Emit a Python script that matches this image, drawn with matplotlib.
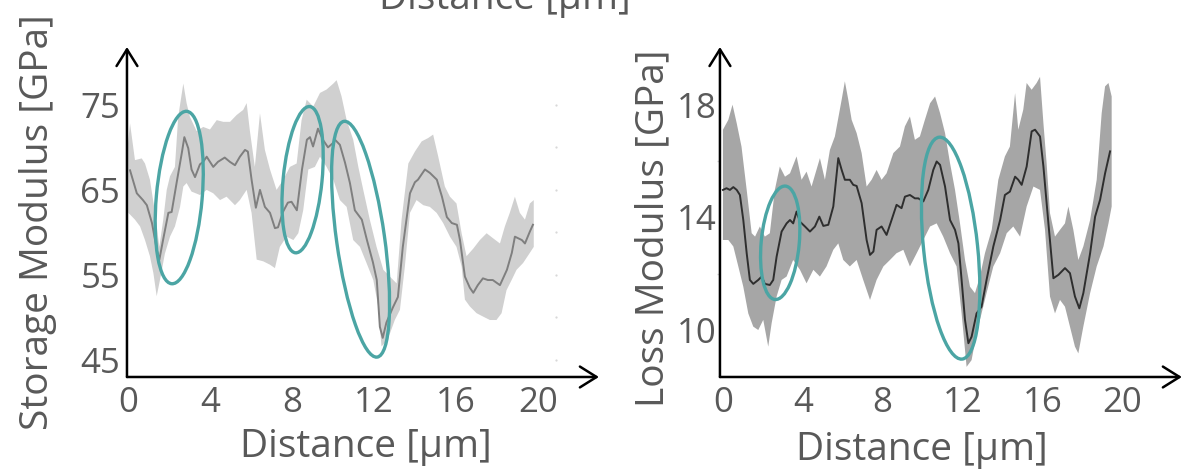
import numpy as np
import matplotlib
matplotlib.use("Agg")
import matplotlib.pyplot as plt
from matplotlib.patches import Ellipse
from matplotlib.transforms import Affine2D, ScaledTranslation

plt.rcParams['font.family'] = ['Open Sans', 'DejaVu Sans']

#%% data
## storage modulus (left): mean line and shaded band edges
storage_x = [0.10, 0.43, 0.73, 0.92, 1.17, 1.41, 1.53, 1.71, 1.97, 2.13,
             2.37, 2.63, 2.75, 2.94, 3.10, 3.27, 3.51, 3.67, 3.84, 4.16,
             4.39, 4.72, 4.97, 5.22, 5.46, 5.71, 5.85, 6.03, 6.24, 6.44,
             6.68, 6.93, 7.17, 7.32, 7.56, 7.80, 7.98, 8.24, 8.49, 8.73,
             8.88, 9.03, 9.27, 9.51, 9.76, 10.00, 10.10, 10.34, 10.59, 10.83,
             11.07, 11.41, 11.66, 11.95, 12.14, 12.29, 12.43, 12.61, 12.93, 13.17,
             13.41, 13.76, 14.00, 14.15, 14.49, 14.73, 15.07, 15.32, 15.56, 15.80,
             16.05, 16.20, 16.44, 16.68, 16.85, 17.07, 17.32, 17.56, 17.80, 18.15,
             18.49, 18.73, 18.88, 19.22, 19.37, 19.61, 19.76]
storage_mean = [67.3, 64.6, 63.8, 63.2, 61.1, 57.9, 56.8, 59.1, 62.3, 62.4,
                65.8, 69.4, 71.2, 69.9, 67.4, 66.5, 68.0, 68.3, 68.9, 67.7,
                68.3, 68.8, 68.3, 67.9, 68.9, 69.7, 69.5, 66.2, 62.9, 65.0,
                63.0, 62.3, 60.5, 60.6, 62.4, 63.5, 63.6, 62.6, 67.4, 70.9,
                71.2, 70.1, 72.2, 70.9, 70.0, 70.5, 70.9, 70.3, 68.2, 65.8,
                62.6, 61.5, 59.1, 56.5, 54.4, 48.9, 47.6, 49.4, 51.2, 52.4,
                58.3, 64.6, 65.9, 66.2, 67.4, 67.0, 66.2, 64.2, 61.8, 61.1,
                60.9, 59.1, 54.8, 53.5, 52.9, 53.8, 54.6, 54.4, 54.4, 53.8,
                55.6, 57.6, 59.5, 59.1, 58.7, 60.1, 60.9]

storage_up_x = [0.00, 0.10, 0.34, 0.67, 0.83, 1.07, 1.32, 1.53, 1.72, 1.89,
                2.05, 2.29, 2.45, 2.70, 2.86, 3.02, 3.35, 3.67, 4.00, 4.33,
                4.65, 4.98, 5.30, 5.62, 5.79, 5.95, 6.19, 6.44, 6.68, 6.93,
                7.25, 7.58, 7.90, 8.23, 8.47, 8.72, 9.04, 9.37, 9.69, 10.02,
                10.18, 10.42, 10.67, 10.99, 11.24, 11.48, 11.80, 12.13, 12.46, 12.78,
                13.11, 13.35, 13.68, 14.00, 14.33, 14.65, 14.89, 15.14, 15.46, 15.71,
                16.03, 16.28, 16.52, 16.85, 17.17, 17.50, 17.82, 18.15, 18.39, 18.63,
                18.88, 19.12, 19.37, 19.61, 19.80]
storage_up = [70.5, 72.8, 68.5, 68.7, 68.1, 66.2, 62.3, 58.3, 61.5, 65.0,
              66.6, 67.7, 73.6, 77.5, 75.2, 73.6, 71.9, 72.4, 72.1, 73.2,
              73.0, 73.0, 73.8, 74.4, 75.2, 71.9, 67.7, 74.0, 69.7, 67.4,
              65.0, 66.2, 67.7, 68.1, 73.2, 75.6, 74.8, 76.4, 76.8, 77.5,
              77.9, 76.0, 73.2, 70.9, 67.7, 65.0, 61.5, 58.3, 55.6, 54.8,
              54.0, 61.5, 68.1, 69.5, 70.7, 71.1, 71.5, 68.9, 65.4, 64.2,
              63.4, 59.9, 57.2, 58.1, 59.1, 59.9, 59.3, 58.7, 60.7, 62.3,
              64.2, 62.3, 61.5, 63.4, 63.8]

storage_lo_x = [0.02, 0.34, 0.59, 0.83, 1.07, 1.24, 1.40, 1.56, 1.80, 2.05,
                2.29, 2.54, 2.70, 2.86, 3.10, 3.51, 3.84, 4.16, 4.49, 4.81,
                5.22, 5.46, 5.79, 6.03, 6.28, 6.60, 6.93, 7.17, 7.41, 7.74,
                8.07, 8.31, 8.55, 8.80, 9.12, 9.37, 9.69, 10.02, 10.34, 10.67,
                10.99, 11.32, 11.64, 11.97, 12.21, 12.37, 12.54, 12.78, 13.02, 13.27,
                13.51, 13.76, 14.08, 14.41, 14.73, 15.06, 15.38, 15.71, 16.03, 16.28,
                16.44, 16.68, 17.01, 17.33, 17.66, 17.98, 18.23, 18.47, 18.72, 18.96,
                19.28, 19.61, 19.80]
storage_lo = [62.3, 61.5, 60.7, 59.1, 57.2, 55.2, 52.5, 54.4, 57.5, 59.5,
              60.7, 63.0, 65.4, 65.8, 64.8, 64.4, 65.0, 64.6, 63.8, 64.2,
              63.2, 63.8, 65.0, 62.3, 56.8, 56.6, 56.2, 55.8, 58.3, 59.5,
              59.1, 59.9, 62.6, 67.4, 67.7, 68.9, 67.7, 66.2, 63.8, 63.0,
              59.1, 58.3, 56.4, 54.4, 51.3, 46.6, 47.0, 48.1, 49.7, 50.9,
              56.0, 62.3, 63.8, 63.2, 63.0, 62.3, 61.1, 59.5, 58.3, 56.0,
              52.1, 51.3, 50.5, 50.1, 49.7, 49.7, 50.5, 53.2, 54.4, 55.6,
              56.4, 57.6, 58.3]

## loss modulus (right)
loss_x = [0.00, 0.18, 0.35, 0.52, 0.69, 0.85, 1.02, 1.19, 1.35, 1.52,
          1.77, 1.94, 2.10, 2.35, 2.52, 2.69, 2.94, 3.19, 3.36, 3.52,
          3.69, 3.86, 4.11, 4.36, 4.61, 4.83, 5.03, 5.28, 5.53, 5.78,
          5.95, 6.11, 6.36, 6.53, 6.70, 6.95, 7.20, 7.37, 7.54, 7.70,
          7.95, 8.20, 8.45, 8.70, 8.95, 9.12, 9.37, 9.62, 9.79, 10.04,
          10.29, 10.54, 10.71, 10.88, 11.13, 11.38, 11.63, 11.80, 11.96, 12.13,
          12.30, 12.46, 12.71, 12.96, 13.21, 13.55, 13.89, 14.13, 14.38, 14.64,
          14.80, 14.97, 15.22, 15.47, 15.64, 15.89, 16.06, 16.31, 16.56, 16.81,
          17.14, 17.39, 17.64, 17.86, 18.06, 18.40, 18.65, 18.90, 19.15, 19.40]
loss_mean = [14.98, 15.04, 14.98, 15.08, 14.98, 14.80, 13.91, 12.73, 11.78, 11.64,
             11.78, 11.90, 11.64, 11.60, 11.78, 12.61, 13.50, 13.79, 13.91, 13.79,
             14.21, 13.85, 13.68, 13.50, 13.68, 14.03, 13.70, 13.74, 14.39, 16.11,
             15.69, 15.34, 15.34, 15.16, 15.12, 14.51, 13.20, 12.67, 12.79, 13.56,
             13.68, 13.38, 13.91, 14.45, 14.33, 14.74, 14.80, 14.68, 14.68, 14.57,
             14.98, 15.69, 15.99, 15.87, 15.10, 13.91, 13.56, 13.08, 11.78, 10.36,
             9.53, 9.76, 10.59, 10.83, 11.78, 12.97, 13.91, 14.80, 14.92, 15.45,
             15.34, 15.16, 15.81, 17.06, 17.12, 16.88, 15.81, 13.79, 11.84, 11.96,
             12.20, 12.02, 11.19, 10.77, 11.31, 12.73, 14.03, 14.63, 15.57, 16.35]

loss_up_x = [0.00, 0.27, 0.48, 0.69, 0.93, 1.19, 1.44, 1.61, 1.85, 2.10,
             2.35, 2.60, 2.85, 3.11, 3.36, 3.69, 3.94, 4.19, 4.44, 4.86,
             5.11, 5.36, 5.61, 5.95, 6.11, 6.28, 6.45, 6.70, 6.95, 7.20,
             7.45, 7.70, 7.95, 8.20, 8.54, 8.87, 9.12, 9.37, 9.62, 9.87,
             10.12, 10.38, 10.63, 10.88, 11.13, 11.38, 11.63, 11.88, 12.13, 12.38,
             12.63, 12.88, 13.13, 13.47, 13.80, 14.13, 14.38, 14.64, 14.80, 15.05,
             15.22, 15.47, 15.72, 15.89, 16.06, 16.22, 16.39, 16.64, 16.89, 17.14,
             17.31, 17.56, 17.81, 18.06, 18.40, 18.73, 18.98, 19.15, 19.32, 19.48]
loss_up = [17.12, 17.47, 18.01, 17.35, 16.52, 14.98, 13.44, 13.32, 13.68, 13.32,
           13.44, 14.98, 15.81, 15.45, 15.57, 16.17, 15.34, 15.63, 15.10, 16.11,
           15.34, 16.40, 16.88, 18.19, 18.84, 18.19, 17.47, 17.00, 16.29, 15.10,
           15.34, 15.69, 15.34, 15.57, 16.29, 16.52, 17.24, 17.59, 16.76, 16.88,
           17.47, 18.06, 18.30, 17.71, 17.00, 15.93, 14.98, 13.79, 12.49, 11.54,
           11.31, 11.90, 12.73, 13.56, 15.34, 16.17, 16.52, 18.42, 17.12, 17.83,
           18.78, 18.54, 18.78, 19.00, 17.35, 15.93, 14.15, 13.32, 13.56, 13.79,
           14.39, 13.56, 12.49, 12.97, 13.91, 15.34, 17.71, 18.66, 18.78, 18.30]

loss_lo_x = [0.00, 0.27, 0.52, 0.77, 1.02, 1.27, 1.52, 1.77, 2.02, 2.27,
             2.44, 2.69, 2.94, 3.19, 3.52, 3.86, 4.19, 4.53, 4.86, 5.19,
             5.53, 5.78, 6.03, 6.36, 6.70, 7.03, 7.37, 7.70, 8.04, 8.37,
             8.70, 9.04, 9.37, 9.71, 10.04, 10.38, 10.71, 11.04, 11.38, 11.71,
             11.96, 12.21, 12.46, 12.71, 12.96, 13.21, 13.55, 13.89, 14.22, 14.55,
             14.89, 15.22, 15.56, 15.89, 16.14, 16.39, 16.64, 16.89, 17.14, 17.39,
             17.64, 17.81, 18.06, 18.40, 18.73, 19.07, 19.32, 19.48]
loss_lo = [13.20, 13.20, 12.97, 12.26, 11.54, 10.59, 10.12, 10.00, 10.36, 9.41,
           10.24, 11.19, 11.78, 11.90, 12.49, 12.14, 11.66, 12.14, 11.90, 12.26,
           12.85, 13.08, 12.49, 12.26, 12.49, 11.78, 11.07, 11.78, 12.26, 12.49,
           12.73, 12.85, 12.26, 12.73, 13.20, 13.68, 13.79, 13.32, 12.73, 12.26,
           10.59, 8.69, 8.93, 9.88, 10.59, 11.31, 12.26, 12.73, 13.44, 13.68,
           13.32, 14.39, 15.10, 14.98, 13.56, 11.19, 10.59, 11.07, 10.83, 10.12,
           9.41, 9.17, 10.12, 11.31, 12.26, 12.97, 13.79, 14.39]

x_ticks = [0, 4, 8, 12, 16, 20]
storage_ticks = [45, 55, 65, 75]
loss_ticks = [10, 14, 18]
storage_faint = [45, 50, 55, 60, 65, 70, 75]   # leftover tick dots at right of left plot
loss_faint = [12, 16]

## highlight ellipses: centre in data units, size in points, tilt in degrees
storage_ell_x = [2.50, 8.52, 11.35]
storage_ell_y = [64.1, 66.2, 59.2]
storage_ell_w = [33.0, 28.0, 34.6]
storage_ell_h = [124.6, 105.8, 171.4]
storage_ell_ang = [-5.0, -5.6, 8.0]

loss_ell_x = [2.87, 11.41]
loss_ell_y = [13.10, 12.91]
loss_ell_w = [27.4, 38.9]
loss_ell_h = [82.0, 160.6]
loss_ell_ang = [-5.3, 5.9]

#%% styling
grey_txt = '#595959'
teal = '#4ba5a4'
lab_fs = 28
tick_fs = 25

fig = plt.figure(figsize=(11.9, 4.7), dpi=100)
ax1 = fig.add_axes([0.1067, 0.1979, 0.3966, 0.7021])
ax2 = fig.add_axes([0.6050, 0.1979, 0.3882, 0.7021])


def arrow_axes(ax):
    for s in ax.spines.values():
        s.set_visible(False)
    for tip in [(1, 0), (0, 1)]:
        ax.annotate('', xy=tip, xytext=(0, 0), xycoords='axes fraction',
                    arrowprops=dict(arrowstyle='->,head_length=0.4,head_width=0.25',
                                    lw=1.8, color='k', mutation_scale=30,
                                    shrinkA=0, shrinkB=0), annotation_clip=False)


def add_ellipses(ax, xs, ys, ws, hs, angs):
    for cx, cy, w, h, a in zip(xs, ys, ws, hs, angs):
        tr = Affine2D().scale(fig.dpi / 72.0) + ScaledTranslation(cx, cy, ax.transData)
        e = Ellipse((0, 0), w, h, angle=a, transform=tr, fill=False,
                    ec=teal, lw=2.4, zorder=5, clip_on=False)
        ax.add_patch(e)


# left : storage modulus
ax1.fill(np.concatenate([storage_up_x, storage_lo_x[::-1]]),
         np.concatenate([storage_up, storage_lo[::-1]]), color='#d0d0d0', lw=0)
ax1.plot(storage_x, storage_mean, color='#7f7f7f', lw=1.4)
ax1.plot([20.9] * len(storage_faint), storage_faint, ls='none', marker='o',
         ms=1.6, mew=0, color='#d8d8d8')
add_ellipses(ax1, storage_ell_x, storage_ell_y, storage_ell_w, storage_ell_h, storage_ell_ang)
ax1.set_xlim(-0.05, 22.98)
ax1.set_ylim(43.0, 81.8)
ax1.set_xticks(x_ticks)
ax1.set_yticks(storage_ticks)
ax1.tick_params(length=0, labelsize=tick_fs, labelcolor=grey_txt)
ax1.tick_params(axis='x', pad=6.5)
ax1.tick_params(axis='y', pad=5)
arrow_axes(ax1)

# right : loss modulus
ax2.fill(np.concatenate([loss_up_x, loss_lo_x[::-1]]),
         np.concatenate([loss_up, loss_lo[::-1]]), color='#a6a6a6', lw=0)
ax2.plot(loss_x, loss_mean, color='#2e2e2e', lw=1.4)
add_ellipses(ax2, loss_ell_x, loss_ell_y, loss_ell_w, loss_ell_h, loss_ell_ang)
ax2.set_xlim(-0.15, 23.0)
ax2.set_ylim(8.33, 20.06)
ax2.set_xticks(x_ticks)
ax2.set_yticks(loss_ticks)
ax2.set_yticks(loss_faint, minor=True)
ax2.tick_params(length=0, labelsize=tick_fs, labelcolor=grey_txt)
ax2.tick_params(axis='x', pad=6.5)
ax2.tick_params(axis='y', pad=2.5)
ax2.tick_params(axis='y', which='minor', length=2, width=1, color='#d0d0d0')
arrow_axes(ax2)

# labels placed in figure coords
fig.text(0.0319, 0.528, 'Storage Modulus [GPa]', rotation=90, ha='center', va='center',
         fontsize=lab_fs, color=grey_txt)
fig.text(0.5487, 0.515, 'Loss Modulus [GPa]', rotation=90, ha='center', va='center',
         fontsize=lab_fs, color=grey_txt)
fig.text(0.3076, 0.0277, 'Distance [µm]', ha='center', va='baseline',
         fontsize=lab_fs, color=grey_txt)
fig.text(0.7748, 0.0213, 'Distance [µm]', ha='center', va='baseline',
         fontsize=lab_fs, color=grey_txt)
# cut-off label at the top edge
fig.text(0.4244, 0.981, 'Distance [µm]', ha='center', va='baseline',
         fontsize=lab_fs, color=grey_txt)

fig.savefig('out.png', dpi=100)
